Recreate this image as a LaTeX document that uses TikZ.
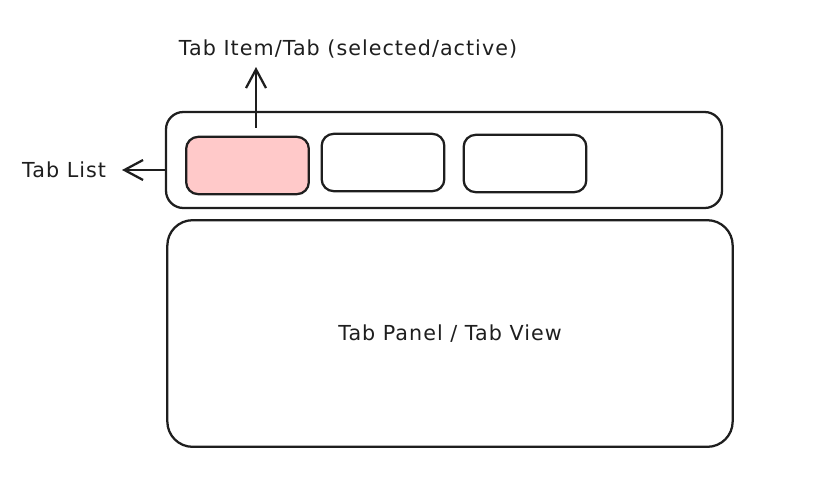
\documentclass[tikz,border=0pt]{standalone}
\usepackage{fontspec}
\setmainfont{DejaVu Sans}[LetterSpace=5]
\usetikzlibrary{arrows.meta,positioning}

\definecolor{tabpink}{HTML}{FFC9C9}
\definecolor{ink}{HTML}{1E1E1E}

\begin{document}
\begin{tikzpicture}[
		x=0.75pt, y=-0.75pt,
		box/.style={draw=ink, line width=1.7pt, rounded corners=13pt, inner sep=0pt},
		tabbox/.style={box, rounded corners=9pt, minimum width=92pt, minimum height=43pt},
		caption/.style={text=ink, font=\fontsize{15.5}{18}\selectfont, inner sep=2pt},
		pointer/.style={draw=ink, line width=1.7pt, -{Straight Barb[length=14pt, width=15pt, line width=1.7pt]}},
	]
		\useasboundingbox (0,0) rectangle (813,483);

		\node (tab list) [box, minimum width=417pt, minimum height=72pt] at (444,160) {};
		\node (tab one) [tabbox, fill=tabpink] at (247.5,165.5) {};
		\node (tab two) [tabbox] at (383,162.5) {};
		\node (tab three) [tabbox] at (525,163.5) {};

		\node (tab panel) [box, rounded corners=19pt, minimum width=424pt, minimum height=170pt] at (450,333.5) {};
		\node [caption] at (tab panel) {Tab Panel / Tab View};

		\node (item label) [caption] at (348,49) {Tab Item/Tab (selected/active)};
		\coordinate (item tip) at (256,67);
		\draw[pointer] ([yshift=6pt]tab one.north -| item tip) -- (item tip);

		\node (list label) [caption, anchor=east] at (109,170) {Tab List};
		\coordinate (list tip) at (122,170);
		\draw[pointer] (tab list.west |- list tip) -- (list tip);
	\end{tikzpicture}
\end{document}
